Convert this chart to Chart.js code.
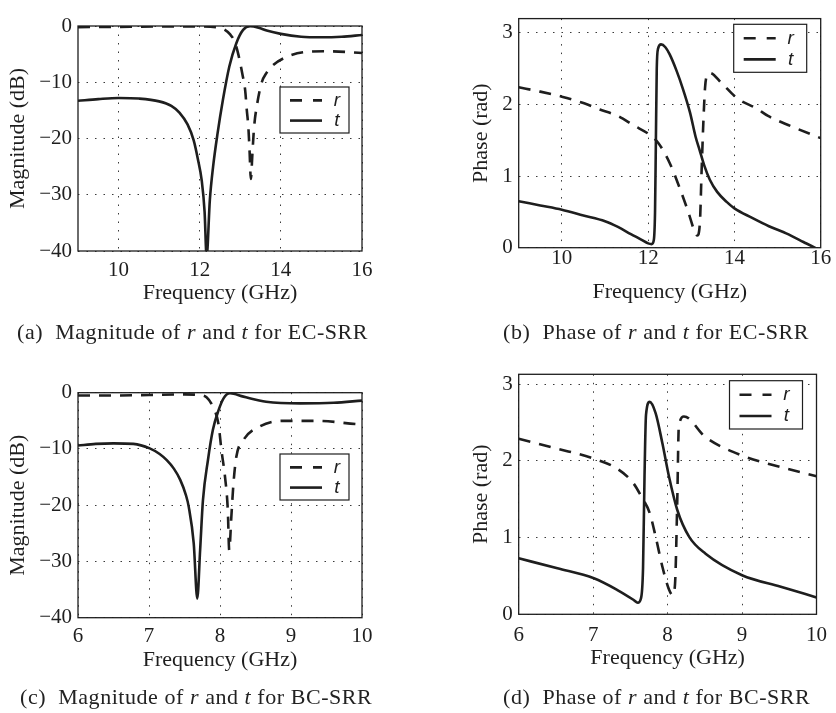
<!DOCTYPE html>
<html>
<head>
<meta charset="utf-8">
<script src="https://cdn.jsdelivr.net/npm/chart.js@4/dist/chart.umd.min.js"></script>
<style>
  body { margin: 0; background: #fff; width: 836px; height: 713px; position: relative; overflow: hidden; }
  canvas { position: absolute; }
  .cap { position: absolute; font-family: "Liberation Serif", serif; font-size: 22px; line-height: 22px;
         color: #222; white-space: nowrap; letter-spacing: 0.55px; }
</style>
</head>
<body>
<canvas id="chartA" width="418" height="340" style="left:0;top:0"></canvas>
<canvas id="chartB" width="418" height="340" style="left:418px;top:0"></canvas>
<canvas id="chartC" width="418" height="340" style="left:0;top:350px"></canvas>
<canvas id="chartD" width="418" height="340" style="left:418px;top:350px"></canvas>
<div class="cap" style="left:17px;top:321px">(a)&nbsp; Magnitude of <i>r</i> and <i>t</i> for EC-SRR</div>
<div class="cap" style="left:503px;top:321px">(b)&nbsp; Phase of <i>r</i> and <i>t</i> for EC-SRR</div>
<div class="cap" style="left:20px;top:686px">(c)&nbsp; Magnitude of <i>r</i> and <i>t</i> for BC-SRR</div>
<div class="cap" style="left:503px;top:686px">(d)&nbsp; Phase of <i>r</i> and <i>t</i> for BC-SRR</div>
<script>
// EC-SRR magnitude (dB)
const ecMagFreqT = [9.0, 9.5, 10.0, 10.5, 11.0, 11.3, 11.5, 11.7, 11.85, 11.95, 12.05, 12.12, 12.17, 12.25, 12.33, 12.44, 12.57, 12.73, 12.9, 13.07, 13.24, 13.45, 13.65, 14.0, 14.5, 15.0, 15.5, 16.0];
const ecMagT = [-13.3, -13.0, -12.8, -12.9, -13.4, -14.2, -15.4, -17.5, -20.3, -23.5, -27.5, -33, -41, -30.9, -25, -19.1, -13.2, -7.2, -3.1, -0.7, -0.05, -0.3, -0.8, -1.4, -1.9, -2.0, -1.9, -1.6];
const ecMagFreqR = [9.0, 10.0, 11.0, 12.0, 12.4, 12.6, 12.75, 12.85, 12.95, 13.05, 13.12, 13.16, 13.2, 13.23, 13.26, 13.3, 13.34, 13.42, 13.53, 13.65, 13.77, 14.14, 14.64, 15.2, 16.0];
const ecMagR = [-0.2, -0.15, -0.1, -0.1, -0.2, -0.6, -1.5, -2.6, -5.0, -8.5, -11.4, -14.9, -18.1, -22.4, -27.2, -22.5, -18, -13.7, -10, -8.3, -7.2, -5.5, -4.6, -4.5, -4.8];

// EC-SRR phase (rad)
const ecPhFreqT = [9.0, 9.5, 10.0, 10.5, 11.0, 11.3, 11.6, 11.85, 12.0, 12.08, 12.13, 12.16, 12.18, 12.2, 12.23, 12.3, 12.4, 12.5, 12.66, 12.8, 12.97, 13.1, 13.2, 13.3, 13.43, 13.6, 13.82, 14.0, 14.4, 14.8, 15.2, 15.6, 15.86, 16.0];
const ecPhT = [0.65, 0.59, 0.53, 0.45, 0.37, 0.29, 0.19, 0.11, 0.06, 0.05, 0.1, 0.5, 1.5, 2.5, 2.78, 2.84, 2.8, 2.7, 2.47, 2.23, 1.89, 1.55, 1.35, 1.15, 0.95, 0.78, 0.64, 0.55, 0.42, 0.3, 0.2, 0.08, 0.0, -0.05];
const ecPhFreqR = [9.0, 9.5, 10.0, 10.5, 10.88, 11.3, 11.66, 12.03, 12.24, 12.51, 12.74, 12.93, 13.07, 13.14, 13.2, 13.24, 13.28, 13.32, 13.36, 13.43, 13.7, 14.0, 14.13, 14.5, 14.78, 15.3, 16.0];
const ecPhR = [2.24, 2.18, 2.11, 2.02, 1.93, 1.84, 1.71, 1.58, 1.46, 1.17, 0.82, 0.5, 0.24, 0.17, 0.35, 1.08, 1.75, 2.24, 2.4, 2.44, 2.3, 2.12, 2.06, 1.95, 1.84, 1.7, 1.53];

// BC-SRR magnitude (dB)
const bcMagFreqT = [6.0, 6.25, 6.5, 6.78, 7.01, 7.15, 7.25, 7.35, 7.44, 7.52, 7.56, 7.63, 7.68, 7.72, 7.76, 7.83, 7.9, 7.98, 8.05, 8.14, 8.33, 8.65, 9.13, 9.6, 10.0];
const bcMagT = [-9.4, -9.1, -9.0, -9.1, -9.9, -10.9, -12.0, -13.5, -15.5, -18.2, -20.3, -26.8, -36.6, -28, -19.1, -12, -6.6, -3.1, -1.0, -0.1, -0.7, -1.6, -1.9, -1.8, -1.4];
const bcMagFreqR = [6.0, 6.5, 7.0, 7.5, 7.7, 7.81, 7.9, 7.98, 8.02, 8.07, 8.11, 8.13, 8.16, 8.19, 8.23, 8.33, 8.56, 8.89, 9.35, 9.94, 10.0];
const bcMagR = [-0.5, -0.5, -0.4, -0.3, -0.4, -0.8, -2.5, -5.7, -10.2, -14.9, -20.9, -28, -22, -16.1, -11.4, -8.4, -6.0, -5.0, -5.0, -5.6, -5.65];

// BC-SRR phase (rad)
const bcPhFreqT = [6.0, 6.52, 7.01, 7.32, 7.54, 7.6, 7.64, 7.67, 7.69, 7.71, 7.76, 7.84, 7.93, 8.02, 8.13, 8.29, 8.51, 9.0, 9.52, 10.0];
const bcPhT = [0.73, 0.6, 0.47, 0.32, 0.19, 0.15, 0.2, 0.6, 1.8, 2.6, 2.77, 2.62, 2.23, 1.79, 1.36, 1.01, 0.79, 0.51, 0.36, 0.22];
const bcPhFreqR = [6.0, 6.52, 7.01, 7.32, 7.54, 7.65, 7.76, 7.84, 7.93, 8.02, 8.07, 8.1, 8.13, 8.15, 8.22, 8.51, 9.0, 9.52, 10.0];
const bcPhR = [2.29, 2.16, 2.03, 1.9, 1.71, 1.53, 1.32, 1.01, 0.62, 0.32, 0.25, 0.4, 1.49, 2.44, 2.58, 2.31, 2.07, 1.92, 1.8];

// tick labels
const magTicks = [-40, -30, -20, -10, 0];
const phaseTicks = [0, 1, 2, 3];
const ecFreqTicks = [10, 12, 14, 16];
const bcFreqTicks = [6, 7, 8, 9, 10];
const seriesLabels = ["r", "t"];

const ink = "#1e1e1e";
const serif = "'Liberation Serif', 'Times New Roman', serif";

const pairs = (xs, ys) => xs.map((x, i) => ({ x: x, y: ys[i] }));

// box around the axes + MATLAB style legend box
const framePlugin = {
  id: "frame",
  afterDraw(chart, args, opts) {
    const { ctx, chartArea: a } = chart;
    ctx.save();
    ctx.strokeStyle = ink;
    ctx.lineWidth = 1.3;
    ctx.strokeRect(a.left, a.top, a.right - a.left, a.bottom - a.top);

    const lx = a.right - opts.right - opts.w;
    const ly = a.top + opts.top;
    ctx.fillStyle = "#fff";
    ctx.fillRect(lx, ly, opts.w, opts.h);
    ctx.lineWidth = 1.2;
    ctx.strokeRect(lx, ly, opts.w, opts.h);
    chart.data.datasets.forEach((ds, i) => {
      const rowY = ly + opts.h * (i === 0 ? 0.29 : 0.73);
      ctx.strokeStyle = ink;
      ctx.lineWidth = ds.borderWidth;
      ctx.setLineDash(ds.borderDash ? [12, 11] : []);
      ctx.beginPath();
      ctx.moveTo(lx + 10, rowY);
      ctx.lineTo(lx + 42, rowY);
      ctx.stroke();
      ctx.setLineDash([]);
      ctx.fillStyle = ink;
      ctx.font = "italic 19px 'Liberation Sans', sans-serif";
      ctx.textAlign = "center";
      ctx.textBaseline = "middle";
      ctx.fillText(ds.label, lx + 57, rowY);
    });
    ctx.restore();
  }
};

function makePanel(id, p) {
  const H = 340, W = 418;
  return new Chart(document.getElementById(id), {
    type: "line",
    data: {
      datasets: [
        { label: seriesLabels[0], data: pairs(p.xr, p.yr), borderColor: ink, borderWidth: 2.6, borderDash: [12, 9], pointRadius: 0, cubicInterpolationMode: "monotone", fill: false },
        { label: seriesLabels[1], data: pairs(p.xt, p.yt), borderColor: ink, borderWidth: 2.6, pointRadius: 0, cubicInterpolationMode: "monotone", fill: false }
      ]
    },
    options: {
      responsive: false,
      animation: false,
      layout: { padding: { left: 0, top: p.area.top, right: W - p.area.right, bottom: 0 } },
      plugins: {
        legend: { display: false },
        tooltip: { enabled: false },
        frame: p.legend
      },
      scales: {
        x: {
          type: "linear",
          min: p.xmin, max: p.xmax,
          afterBuildTicks: (s) => { s.ticks = p.xticks.map((v) => ({ value: v })); },
          afterFit: (s) => { s.height = H - p.area.bottom; },
          grid: { color: "#3a3a3a", lineWidth: 1, drawTicks: false },
          border: { display: false, dash: [1.5, 7] },
          ticks: { color: ink, font: { family: serif, size: 21 }, padding: p.xTickPad, maxRotation: 0 },
          title: { display: true, text: "Frequency (GHz)", color: ink, font: { family: serif, size: 22 }, padding: { top: 0, bottom: p.xTitlePad } }
        },
        y: {
          min: p.ymin, max: p.ymax,
          afterBuildTicks: (s) => { s.ticks = p.yticks.map((v) => ({ value: v })); },
          afterFit: (s) => { s.width = p.area.left; },
          grid: { color: "#3a3a3a", lineWidth: 1, drawTicks: false },
          border: { display: false, dash: [1.5, 7] },
          ticks: { color: ink, font: { family: serif, size: 21 }, padding: 6, callback: (v) => String(v).replace("-", "\u2212") },
          title: { display: true, text: p.ytitle, color: ink, font: { family: serif, size: 22 }, padding: { top: p.yTitlePad, bottom: 0 } }
        }
      }
    },
    plugins: [framePlugin]
  });
}

makePanel("chartA", {
  xr: ecMagFreqR, yr: ecMagR, xt: ecMagFreqT, yt: ecMagT,
  xmin: 9, xmax: 16, xticks: ecFreqTicks, ymin: -40, ymax: 0, yticks: magTicks,
  ytitle: "Magnitude (dB)",
  area: { left: 78, top: 26, right: 362, bottom: 251 },
  xTickPad: 7, xTitlePad: 34, yTitlePad: 5,
  legend: { right: 13, top: 61, w: 69, h: 46 }
});
makePanel("chartB", {
  xr: ecPhFreqR, yr: ecPhR, xt: ecPhFreqT, yt: ecPhT,
  xmin: 9, xmax: 16, xticks: ecFreqTicks, ymin: 0, ymax: 3.2, yticks: phaseTicks,
  ytitle: "Phase (rad)",
  area: { left: 100.7, top: 8.3, right: 402.7, bottom: 247.7 },
  xTickPad: -2, xTitlePad: 35, yTitlePad: 50,
  legend: { right: 14, top: 5.7, w: 73, h: 48 }
});
makePanel("chartC", {
  xr: bcMagFreqR, yr: bcMagR, xt: bcMagFreqT, yt: bcMagT,
  xmin: 6, xmax: 10, xticks: bcFreqTicks, ymin: -40, ymax: 0, yticks: magTicks,
  ytitle: "Magnitude (dB)",
  area: { left: 78, top: 42.7, right: 362, bottom: 267.7 },
  xTickPad: 6, xTitlePad: 17, yTitlePad: 5,
  legend: { right: 13, top: 61.3, w: 69, h: 46 }
});
makePanel("chartD", {
  xr: bcPhFreqR, yr: bcPhR, xt: bcPhFreqT, yt: bcPhT,
  xmin: 6, xmax: 10, xticks: bcFreqTicks, ymin: 0, ymax: 3.13, yticks: phaseTicks,
  ytitle: "Phase (rad)",
  area: { left: 100.7, top: 24.3, right: 402.7, bottom: 264.3 },
  xTickPad: 9, xTitlePad: 19, yTitlePad: 50,
  legend: { right: 14, top: 6.4, w: 73, h: 48.3 }
});
</script>
</body>
</html>
